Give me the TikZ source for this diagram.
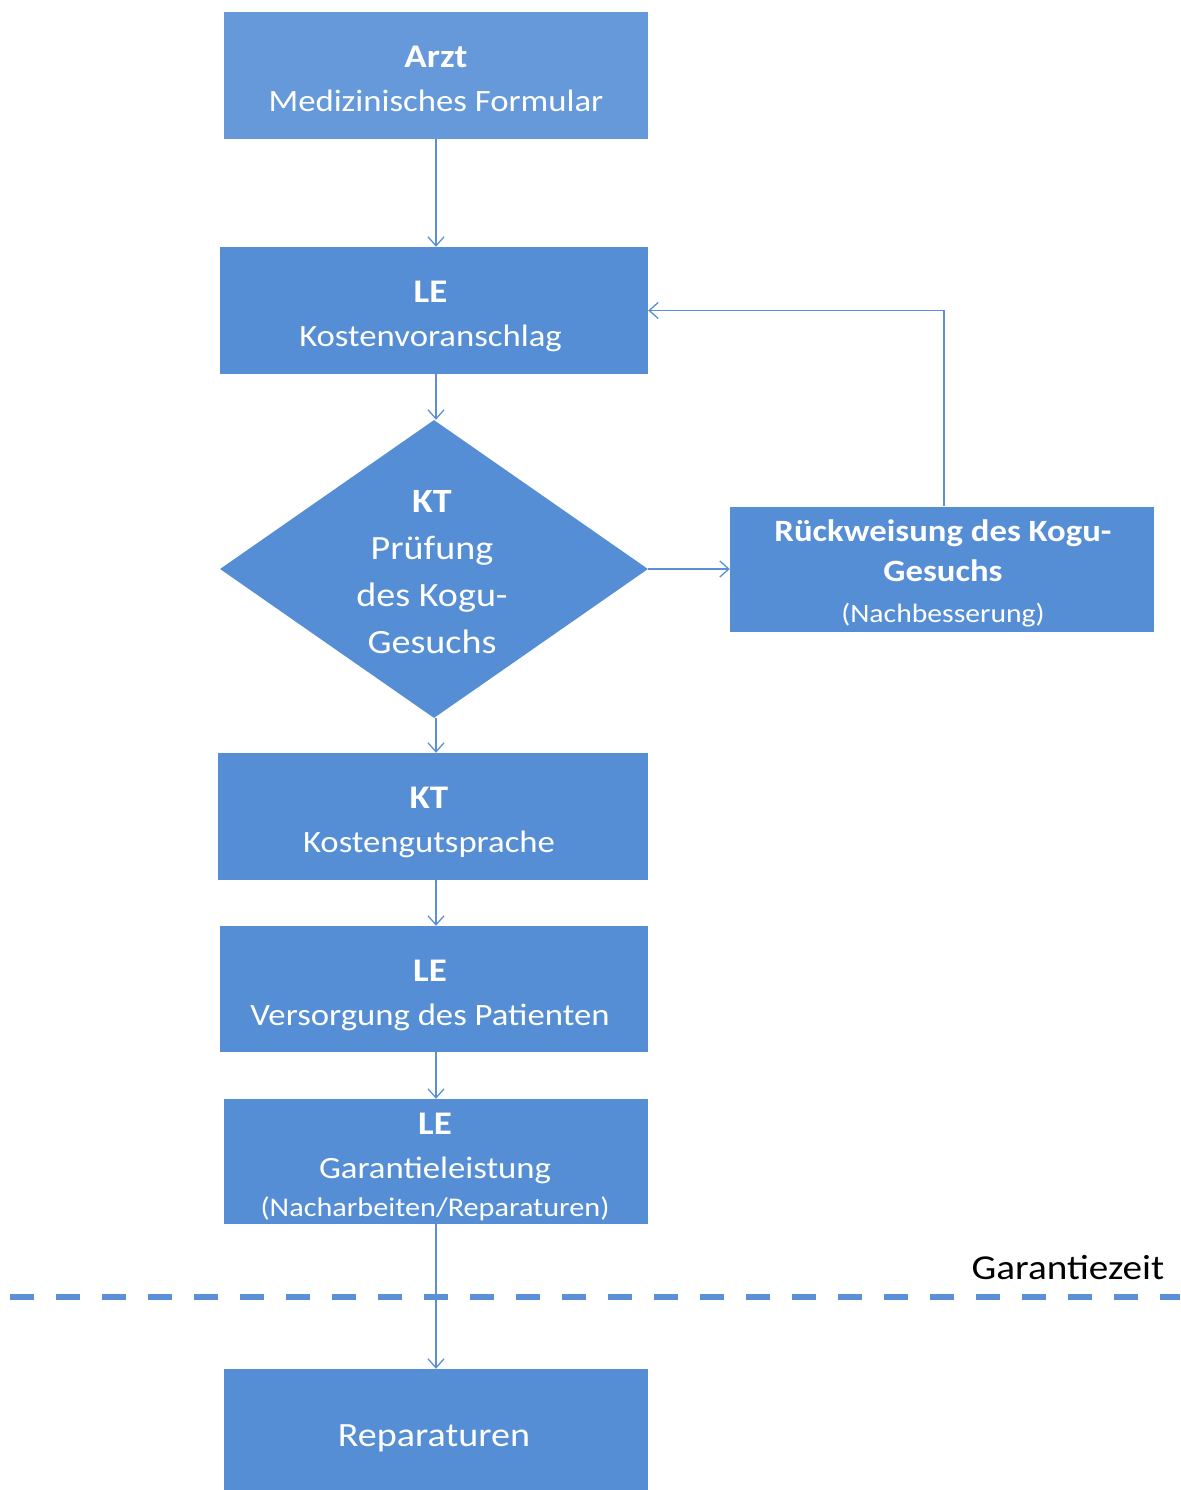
\documentclass[tikz,border=0pt]{standalone}
\usepackage{fontspec}
\setmainfont{Carlito}[FakeStretch=1.12]
\usetikzlibrary{arrows.meta,shapes.geometric}
\definecolor{boxcol}{RGB}{85,142,213}
\definecolor{arztcol}{RGB}{102,153,217}
\definecolor{linecol}{RGB}{91,143,214}
\begin{document}
\begin{tikzpicture}[x=1pt,y=-1pt,
  box/.style={rectangle, fill=boxcol, inner sep=0pt},
  txt/.style={text=white, align=center, inner sep=0pt, font=\fontsize{31}{44}\selectfont},
  conn/.style={draw=linecol, line width=1.3pt, -{Straight Barb[length=9pt,width=16pt,line width=1.3pt]}},
  dashline/.style={draw=linecol, line width=6pt, dash pattern=on 24pt off 22pt}
]
\useasboundingbox (0,0) rectangle (1180,1490);
% boxes
\node[box, fill=arztcol, minimum width=424, minimum height=127] (arzt) at (436,75.5) {};
\node[txt] (arztT) at (436,78.5)
  {{\fontsize{33}{44}\selectfont\bfseries Arzt}\\Medizinisches Formular};
\node[box, minimum width=428, minimum height=127] (le1) at (434,310.5) {};
\node[txt] (le1T) at (430.5,316.5)
  {{\fontsize{33}{44}\selectfont\bfseries LE}\\Kostenvoranschlag};
\node[diamond, fill=boxcol, inner sep=0pt, minimum width=428, minimum height=298] (dia) at (434,569) {};
\node[txt, font=\fontsize{34}{47}\selectfont] (diaT) at (432,572)
  {{\bfseries KT}\\Prüfung\\des Kogu-\\Gesuchs};
\node[box, minimum width=424, minimum height=125] (rueck) at (942,569) {};
\node[txt, font=\fontsize{26.5}{40.5}\selectfont] (rueckT) at (943,573)
  {{\fontsize{31}{40.5}\selectfont\bfseries Rückweisung des Kogu-}\\{\fontsize{31}{40.5}\selectfont\bfseries Gesuchs}\\(Nachbesserung)};
\node[box, minimum width=430, minimum height=127] (kt) at (433,816.5) {};
\node[txt] (ktT) at (429,822.5)
  {{\fontsize{33}{44}\selectfont\bfseries KT}\\Kostengutsprache};
\node[box, minimum width=428, minimum height=126] (vers) at (434,989) {};
\node[txt] (versT) at (430,995.5)
  {{\fontsize{33}{44}\selectfont\bfseries LE}\\Versorgung des Patienten};
\node[box, minimum width=424, minimum height=125] (gar) at (436,1161.5) {};
\node[txt] (garT) at (435,1167)
  {{\fontsize{33}{44}\selectfont\bfseries LE}\\Garantieleistung\\[-6pt]{\fontsize{27}{38}\selectfont(Nacharbeiten/Reparaturen)}};
\node[box, minimum width=424, minimum height=121] (rep) at (436,1429.5) {};
\node[txt, font=\fontsize{34}{40}\selectfont] (repT) at (434,1438) {Reparaturen};
% guarantee line
\coordinate (dl1) at (10,1297);
\coordinate (dl2) at (1180,1297);
\draw[dashline] (dl1) -- (dl2);
\node[text=black, inner sep=0pt, font=\fontsize{35}{40}\selectfont] (gz) at (1068,1268) {Garantiezeit};
% connectors
\draw[conn] (arzt.south) -- (arzt.south |- le1.north);
\draw[conn] (arzt.south |- le1.south) -- (arzt.south |- dia.north);
\draw[conn] (arzt.south |- dia.south) -- (arzt.south |- kt.north);
\draw[conn] (arzt.south |- kt.south) -- (arzt.south |- vers.north);
\draw[conn] (arzt.south |- vers.south) -- (arzt.south |- gar.north);
\draw[conn] (gar.south) -- (rep.north);
\draw[conn] (dia.east) -- (rueck.west);
\draw[conn] ([xshift=2pt]rueck.north) |- (le1.east);
\end{tikzpicture}
\end{document}
